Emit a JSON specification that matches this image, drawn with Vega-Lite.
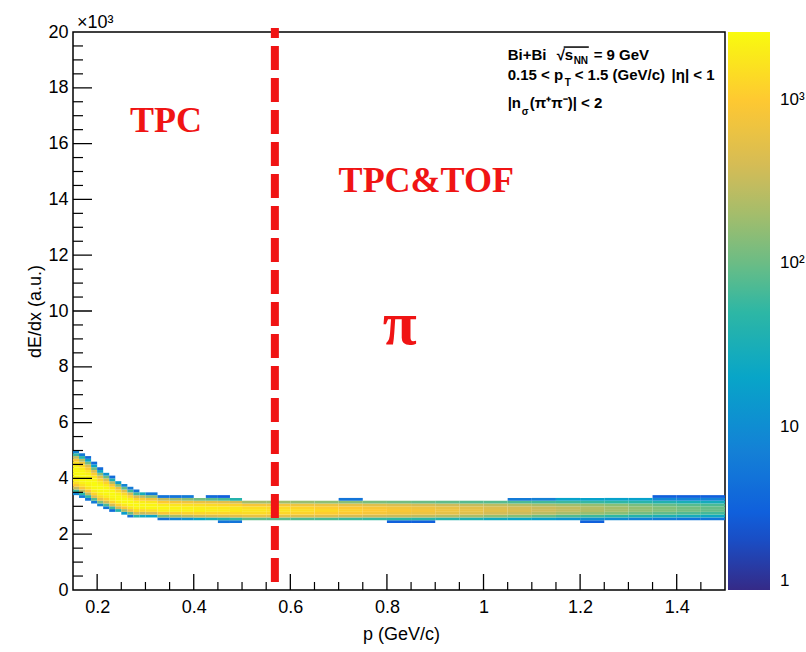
{
"$schema": "https://vega.github.io/schema/vega-lite/v6.json",
"width": 652,
"height": 558,
"autosize": {"type": "none"},
"padding": {"left": 73, "top": 32, "right": 81, "bottom": 62},
"background": "white",
"config": {
  "view": {"stroke": "black", "strokeWidth": 1.5},
  "axis": {"labelFont": "Liberation Sans", "titleFont": "Liberation Sans", "labelColor": "black", "titleColor": "black", "grid": false, "domain": false, "tickColor": "black"}
},
"resolve": {"axis": {"x": "independent", "y": "independent"}},
"datasets": {
"xmajor": [{"v":0.2},{"v":0.4},{"v":0.6},{"v":0.8},{"v":1.0},{"v":1.2},{"v":1.4}],
"xminor": [{"v":0.25},{"v":0.3},{"v":0.35},{"v":0.45},{"v":0.5},{"v":0.55},{"v":0.65},{"v":0.7},{"v":0.75},{"v":0.85},{"v":0.9},{"v":0.95},{"v":1.05},{"v":1.1},{"v":1.15},{"v":1.25},{"v":1.3},{"v":1.35},{"v":1.45}],
"ymajor": [{"v":2},{"v":4},{"v":6},{"v":8},{"v":10},{"v":12},{"v":14},{"v":16},{"v":18}],
"yminor": [{"v":0.5},{"v":1},{"v":1.5},{"v":2.5},{"v":3},{"v":3.5},{"v":4.5},{"v":5},{"v":5.5},{"v":6.5},{"v":7},{"v":7.5},{"v":8.5},{"v":9},{"v":9.5},{"v":10.5},{"v":11},{"v":11.5},{"v":12.5},{"v":13},{"v":13.5},{"v":14.5},{"v":15},{"v":15.5},{"v":16.5},{"v":17},{"v":17.5},{"v":18.5},{"v":19},{"v":19.5}],
"hist": [
{"p":0.15,"q":0.1625,"e":3.4,"f":3.5,"n":8},
{"p":0.15,"q":0.1625,"e":3.5,"f":3.6,"n":60},
{"p":0.15,"q":0.1625,"e":3.6,"f":3.7,"n":300},
{"p":0.15,"q":0.1625,"e":3.7,"f":3.8,"n":900},
{"p":0.15,"q":0.1625,"e":3.8,"f":3.9,"n":1600},
{"p":0.15,"q":0.1625,"e":3.9,"f":4.0,"n":2150},
{"p":0.15,"q":0.1625,"e":4.0,"f":4.1,"n":2450},
{"p":0.15,"q":0.1625,"e":4.1,"f":4.2,"n":2550},
{"p":0.15,"q":0.1625,"e":4.2,"f":4.3,"n":2550},
{"p":0.15,"q":0.1625,"e":4.3,"f":4.4,"n":2450},
{"p":0.15,"q":0.1625,"e":4.4,"f":4.5,"n":2150},
{"p":0.15,"q":0.1625,"e":4.5,"f":4.6,"n":1600},
{"p":0.15,"q":0.1625,"e":4.6,"f":4.7,"n":900},
{"p":0.15,"q":0.1625,"e":4.7,"f":4.8,"n":300},
{"p":0.15,"q":0.1625,"e":4.8,"f":4.9,"n":60},
{"p":0.15,"q":0.1625,"e":4.9,"f":5.0,"n":8},
{"p":0.1625,"q":0.175,"e":3.3,"f":3.4,"n":6},
{"p":0.1625,"q":0.175,"e":3.4,"f":3.5,"n":50},
{"p":0.1625,"q":0.175,"e":3.5,"f":3.6,"n":280},
{"p":0.1625,"q":0.175,"e":3.6,"f":3.7,"n":850},
{"p":0.1625,"q":0.175,"e":3.7,"f":3.8,"n":1550},
{"p":0.1625,"q":0.175,"e":3.8,"f":3.9,"n":2100},
{"p":0.1625,"q":0.175,"e":3.9,"f":4.0,"n":2450},
{"p":0.1625,"q":0.175,"e":4.0,"f":4.1,"n":2550},
{"p":0.1625,"q":0.175,"e":4.1,"f":4.2,"n":2550},
{"p":0.1625,"q":0.175,"e":4.2,"f":4.3,"n":2400},
{"p":0.1625,"q":0.175,"e":4.3,"f":4.4,"n":2000},
{"p":0.1625,"q":0.175,"e":4.4,"f":4.5,"n":1400},
{"p":0.1625,"q":0.175,"e":4.5,"f":4.6,"n":750},
{"p":0.1625,"q":0.175,"e":4.6,"f":4.7,"n":250},
{"p":0.1625,"q":0.175,"e":4.7,"f":4.8,"n":45},
{"p":0.1625,"q":0.175,"e":4.8,"f":4.9,"n":6},
{"p":0.175,"q":0.1875,"e":3.2,"f":3.3,"n":5},
{"p":0.175,"q":0.1875,"e":3.3,"f":3.4,"n":50},
{"p":0.175,"q":0.1875,"e":3.4,"f":3.5,"n":300},
{"p":0.175,"q":0.1875,"e":3.5,"f":3.6,"n":900},
{"p":0.175,"q":0.1875,"e":3.6,"f":3.7,"n":1600},
{"p":0.175,"q":0.1875,"e":3.7,"f":3.8,"n":2150},
{"p":0.175,"q":0.1875,"e":3.8,"f":3.9,"n":2450},
{"p":0.175,"q":0.1875,"e":3.9,"f":4.0,"n":2550},
{"p":0.175,"q":0.1875,"e":4.0,"f":4.1,"n":2500},
{"p":0.175,"q":0.1875,"e":4.1,"f":4.2,"n":2250},
{"p":0.175,"q":0.1875,"e":4.2,"f":4.3,"n":1750},
{"p":0.175,"q":0.1875,"e":4.3,"f":4.4,"n":1050},
{"p":0.175,"q":0.1875,"e":4.4,"f":4.5,"n":450},
{"p":0.175,"q":0.1875,"e":4.5,"f":4.6,"n":110},
{"p":0.175,"q":0.1875,"e":4.6,"f":4.7,"n":20},
{"p":0.175,"q":0.1875,"e":4.7,"f":4.8,"n":4},
{"p":0.1875,"q":0.2,"e":3.1,"f":3.2,"n":6},
{"p":0.1875,"q":0.2,"e":3.2,"f":3.3,"n":80},
{"p":0.1875,"q":0.2,"e":3.3,"f":3.4,"n":450},
{"p":0.1875,"q":0.2,"e":3.4,"f":3.5,"n":1200},
{"p":0.1875,"q":0.2,"e":3.5,"f":3.6,"n":1950},
{"p":0.1875,"q":0.2,"e":3.6,"f":3.7,"n":2400},
{"p":0.1875,"q":0.2,"e":3.7,"f":3.8,"n":2550},
{"p":0.1875,"q":0.2,"e":3.8,"f":3.9,"n":2550},
{"p":0.1875,"q":0.2,"e":3.9,"f":4.0,"n":2300},
{"p":0.1875,"q":0.2,"e":4.0,"f":4.1,"n":1800},
{"p":0.1875,"q":0.2,"e":4.1,"f":4.2,"n":1100},
{"p":0.1875,"q":0.2,"e":4.2,"f":4.3,"n":450},
{"p":0.1875,"q":0.2,"e":4.3,"f":4.4,"n":110},
{"p":0.1875,"q":0.2,"e":4.4,"f":4.5,"n":18},
{"p":0.1875,"q":0.2,"e":4.5,"f":4.6,"n":4},
{"p":0.2,"q":0.2125,"e":3.0,"f":3.1,"n":8},
{"p":0.2,"q":0.2125,"e":3.1,"f":3.2,"n":120},
{"p":0.2,"q":0.2125,"e":3.2,"f":3.3,"n":600},
{"p":0.2,"q":0.2125,"e":3.3,"f":3.4,"n":1400},
{"p":0.2,"q":0.2125,"e":3.4,"f":3.5,"n":2100},
{"p":0.2,"q":0.2125,"e":3.5,"f":3.6,"n":2450},
{"p":0.2,"q":0.2125,"e":3.6,"f":3.7,"n":2550},
{"p":0.2,"q":0.2125,"e":3.7,"f":3.8,"n":2400},
{"p":0.2,"q":0.2125,"e":3.8,"f":3.9,"n":1950},
{"p":0.2,"q":0.2125,"e":3.9,"f":4.0,"n":1250},
{"p":0.2,"q":0.2125,"e":4.0,"f":4.1,"n":550},
{"p":0.2,"q":0.2125,"e":4.1,"f":4.2,"n":140},
{"p":0.2,"q":0.2125,"e":4.2,"f":4.3,"n":22},
{"p":0.2,"q":0.2125,"e":4.3,"f":4.4,"n":4},
{"p":0.2125,"q":0.225,"e":2.9,"f":3.0,"n":5},
{"p":0.2125,"q":0.225,"e":3.0,"f":3.1,"n":70},
{"p":0.2125,"q":0.225,"e":3.1,"f":3.2,"n":400},
{"p":0.2125,"q":0.225,"e":3.2,"f":3.3,"n":1150},
{"p":0.2125,"q":0.225,"e":3.3,"f":3.4,"n":1950},
{"p":0.2125,"q":0.225,"e":3.4,"f":3.5,"n":2400},
{"p":0.2125,"q":0.225,"e":3.5,"f":3.6,"n":2550},
{"p":0.2125,"q":0.225,"e":3.6,"f":3.7,"n":2400},
{"p":0.2125,"q":0.225,"e":3.7,"f":3.8,"n":1900},
{"p":0.2125,"q":0.225,"e":3.8,"f":3.9,"n":1150},
{"p":0.2125,"q":0.225,"e":3.9,"f":4.0,"n":450},
{"p":0.2125,"q":0.225,"e":4.0,"f":4.1,"n":100},
{"p":0.2125,"q":0.225,"e":4.1,"f":4.2,"n":12},
{"p":0.225,"q":0.2375,"e":2.8,"f":2.9,"n":4},
{"p":0.225,"q":0.2375,"e":2.9,"f":3.0,"n":60},
{"p":0.225,"q":0.2375,"e":3.0,"f":3.1,"n":400},
{"p":0.225,"q":0.2375,"e":3.1,"f":3.2,"n":1200},
{"p":0.225,"q":0.2375,"e":3.2,"f":3.3,"n":2000},
{"p":0.225,"q":0.2375,"e":3.3,"f":3.4,"n":2450},
{"p":0.225,"q":0.2375,"e":3.4,"f":3.5,"n":2550},
{"p":0.225,"q":0.2375,"e":3.5,"f":3.6,"n":2300},
{"p":0.225,"q":0.2375,"e":3.6,"f":3.7,"n":1650},
{"p":0.225,"q":0.2375,"e":3.7,"f":3.8,"n":850},
{"p":0.225,"q":0.2375,"e":3.8,"f":3.9,"n":250},
{"p":0.225,"q":0.2375,"e":3.9,"f":4.0,"n":35},
{"p":0.225,"q":0.2375,"e":4.0,"f":4.1,"n":4},
{"p":0.2375,"q":0.25,"e":2.8,"f":2.9,"n":40},
{"p":0.2375,"q":0.25,"e":2.9,"f":3.0,"n":350},
{"p":0.2375,"q":0.25,"e":3.0,"f":3.1,"n":1150},
{"p":0.2375,"q":0.25,"e":3.1,"f":3.2,"n":2000},
{"p":0.2375,"q":0.25,"e":3.2,"f":3.3,"n":2450},
{"p":0.2375,"q":0.25,"e":3.3,"f":3.4,"n":2500},
{"p":0.2375,"q":0.25,"e":3.4,"f":3.5,"n":2150},
{"p":0.2375,"q":0.25,"e":3.5,"f":3.6,"n":1400},
{"p":0.2375,"q":0.25,"e":3.6,"f":3.7,"n":600},
{"p":0.2375,"q":0.25,"e":3.7,"f":3.8,"n":130},
{"p":0.2375,"q":0.25,"e":3.8,"f":3.9,"n":15},
{"p":0.25,"q":0.2625,"e":2.7,"f":2.8,"n":15},
{"p":0.25,"q":0.2625,"e":2.8,"f":2.9,"n":200},
{"p":0.25,"q":0.2625,"e":2.9,"f":3.0,"n":900},
{"p":0.25,"q":0.2625,"e":3.0,"f":3.1,"n":1850},
{"p":0.25,"q":0.2625,"e":3.1,"f":3.2,"n":2400},
{"p":0.25,"q":0.2625,"e":3.2,"f":3.3,"n":2500},
{"p":0.25,"q":0.2625,"e":3.3,"f":3.4,"n":2100},
{"p":0.25,"q":0.2625,"e":3.4,"f":3.5,"n":1300},
{"p":0.25,"q":0.2625,"e":3.5,"f":3.6,"n":500},
{"p":0.25,"q":0.2625,"e":3.6,"f":3.7,"n":90},
{"p":0.25,"q":0.2625,"e":3.7,"f":3.8,"n":8},
{"p":0.2625,"q":0.275,"e":2.6,"f":2.7,"n":5},
{"p":0.2625,"q":0.275,"e":2.7,"f":2.8,"n":100},
{"p":0.2625,"q":0.275,"e":2.8,"f":2.9,"n":650},
{"p":0.2625,"q":0.275,"e":2.9,"f":3.0,"n":1650},
{"p":0.2625,"q":0.275,"e":3.0,"f":3.1,"n":2350},
{"p":0.2625,"q":0.275,"e":3.1,"f":3.2,"n":2500},
{"p":0.2625,"q":0.275,"e":3.2,"f":3.3,"n":2100},
{"p":0.2625,"q":0.275,"e":3.3,"f":3.4,"n":1200},
{"p":0.2625,"q":0.275,"e":3.4,"f":3.5,"n":400},
{"p":0.2625,"q":0.275,"e":3.5,"f":3.6,"n":60},
{"p":0.2625,"q":0.275,"e":3.6,"f":3.7,"n":6},
{"p":0.275,"q":0.2875,"e":2.6,"f":2.7,"n":40},
{"p":0.275,"q":0.2875,"e":2.7,"f":2.8,"n":400},
{"p":0.275,"q":0.2875,"e":2.8,"f":2.9,"n":1400},
{"p":0.275,"q":0.2875,"e":2.9,"f":3.0,"n":2250},
{"p":0.275,"q":0.2875,"e":3.0,"f":3.1,"n":2450},
{"p":0.275,"q":0.2875,"e":3.1,"f":3.2,"n":2100},
{"p":0.275,"q":0.2875,"e":3.2,"f":3.3,"n":1250},
{"p":0.275,"q":0.2875,"e":3.3,"f":3.4,"n":420},
{"p":0.275,"q":0.2875,"e":3.4,"f":3.5,"n":60},
{"p":0.275,"q":0.2875,"e":3.5,"f":3.6,"n":5},
{"p":0.2875,"q":0.3,"e":2.6,"f":2.7,"n":25},
{"p":0.2875,"q":0.3,"e":2.7,"f":2.8,"n":320},
{"p":0.2875,"q":0.3,"e":2.8,"f":2.9,"n":1300},
{"p":0.2875,"q":0.3,"e":2.9,"f":3.0,"n":2200},
{"p":0.2875,"q":0.3,"e":3.0,"f":3.1,"n":2400},
{"p":0.2875,"q":0.3,"e":3.1,"f":3.2,"n":1950},
{"p":0.2875,"q":0.3,"e":3.2,"f":3.3,"n":1050},
{"p":0.2875,"q":0.3,"e":3.3,"f":3.4,"n":300},
{"p":0.2875,"q":0.3,"e":3.4,"f":3.5,"n":30},
{"p":0.3,"q":0.325,"e":2.6,"f":2.7,"n":20},
{"p":0.3,"q":0.325,"e":2.7,"f":2.8,"n":400},
{"p":0.3,"q":0.325,"e":2.8,"f":2.9,"n":1500},
{"p":0.3,"q":0.325,"e":2.9,"f":3.0,"n":2300},
{"p":0.3,"q":0.325,"e":3.0,"f":3.1,"n":2300},
{"p":0.3,"q":0.325,"e":3.1,"f":3.2,"n":1700},
{"p":0.3,"q":0.325,"e":3.2,"f":3.3,"n":800},
{"p":0.3,"q":0.325,"e":3.3,"f":3.4,"n":150},
{"p":0.3,"q":0.325,"e":3.4,"f":3.5,"n":6},
{"p":0.325,"q":0.35,"e":2.5,"f":2.6,"n":5},
{"p":0.325,"q":0.35,"e":2.6,"f":2.7,"n":120},
{"p":0.325,"q":0.35,"e":2.7,"f":2.8,"n":900},
{"p":0.325,"q":0.35,"e":2.8,"f":2.9,"n":2000},
{"p":0.325,"q":0.35,"e":2.9,"f":3.0,"n":2300},
{"p":0.325,"q":0.35,"e":3.0,"f":3.1,"n":1900},
{"p":0.325,"q":0.35,"e":3.1,"f":3.2,"n":1000},
{"p":0.325,"q":0.35,"e":3.2,"f":3.3,"n":300},
{"p":0.325,"q":0.35,"e":3.3,"f":3.4,"n":5},
{"p":0.35,"q":0.375,"e":2.5,"f":2.6,"n":8},
{"p":0.35,"q":0.375,"e":2.6,"f":2.7,"n":200},
{"p":0.35,"q":0.375,"e":2.7,"f":2.8,"n":1100},
{"p":0.35,"q":0.375,"e":2.8,"f":2.9,"n":2100},
{"p":0.35,"q":0.375,"e":2.9,"f":3.0,"n":2200},
{"p":0.35,"q":0.375,"e":3.0,"f":3.1,"n":1700},
{"p":0.35,"q":0.375,"e":3.1,"f":3.2,"n":800},
{"p":0.35,"q":0.375,"e":3.2,"f":3.3,"n":200},
{"p":0.35,"q":0.375,"e":3.3,"f":3.4,"n":5},
{"p":0.375,"q":0.4,"e":2.5,"f":2.6,"n":12},
{"p":0.375,"q":0.4,"e":2.6,"f":2.7,"n":280},
{"p":0.375,"q":0.4,"e":2.7,"f":2.8,"n":1200},
{"p":0.375,"q":0.4,"e":2.8,"f":2.9,"n":2100},
{"p":0.375,"q":0.4,"e":2.9,"f":3.0,"n":2100},
{"p":0.375,"q":0.4,"e":3.0,"f":3.1,"n":1550},
{"p":0.375,"q":0.4,"e":3.1,"f":3.2,"n":700},
{"p":0.375,"q":0.4,"e":3.2,"f":3.3,"n":150},
{"p":0.375,"q":0.4,"e":3.3,"f":3.4,"n":6},
{"p":0.4,"q":0.425,"e":2.5,"f":2.6,"n":20},
{"p":0.4,"q":0.425,"e":2.6,"f":2.7,"n":350},
{"p":0.4,"q":0.425,"e":2.7,"f":2.8,"n":1250},
{"p":0.4,"q":0.425,"e":2.8,"f":2.9,"n":2050},
{"p":0.4,"q":0.425,"e":2.9,"f":3.0,"n":2000},
{"p":0.4,"q":0.425,"e":3.0,"f":3.1,"n":1450},
{"p":0.4,"q":0.425,"e":3.1,"f":3.2,"n":620},
{"p":0.4,"q":0.425,"e":3.2,"f":3.3,"n":110},
{"p":0.425,"q":0.45,"e":2.5,"f":2.6,"n":30},
{"p":0.425,"q":0.45,"e":2.6,"f":2.7,"n":400},
{"p":0.425,"q":0.45,"e":2.7,"f":2.8,"n":1250},
{"p":0.425,"q":0.45,"e":2.8,"f":2.9,"n":1950},
{"p":0.425,"q":0.45,"e":2.9,"f":3.0,"n":1900},
{"p":0.425,"q":0.45,"e":3.0,"f":3.1,"n":1350},
{"p":0.425,"q":0.45,"e":3.1,"f":3.2,"n":560},
{"p":0.425,"q":0.45,"e":3.2,"f":3.3,"n":90},
{"p":0.425,"q":0.45,"e":3.3,"f":3.4,"n":4},
{"p":0.45,"q":0.475,"e":2.4,"f":2.5,"n":5},
{"p":0.45,"q":0.475,"e":2.5,"f":2.6,"n":40},
{"p":0.45,"q":0.475,"e":2.6,"f":2.7,"n":450},
{"p":0.45,"q":0.475,"e":2.7,"f":2.8,"n":1250},
{"p":0.45,"q":0.475,"e":2.8,"f":2.9,"n":1900},
{"p":0.45,"q":0.475,"e":2.9,"f":3.0,"n":1800},
{"p":0.45,"q":0.475,"e":3.0,"f":3.1,"n":1250},
{"p":0.45,"q":0.475,"e":3.1,"f":3.2,"n":500},
{"p":0.45,"q":0.475,"e":3.2,"f":3.3,"n":70},
{"p":0.45,"q":0.475,"e":3.3,"f":3.4,"n":3},
{"p":0.475,"q":0.5,"e":2.4,"f":2.5,"n":5},
{"p":0.475,"q":0.5,"e":2.5,"f":2.6,"n":55},
{"p":0.475,"q":0.5,"e":2.6,"f":2.7,"n":500},
{"p":0.475,"q":0.5,"e":2.7,"f":2.8,"n":1300},
{"p":0.475,"q":0.5,"e":2.8,"f":2.9,"n":1800},
{"p":0.475,"q":0.5,"e":2.9,"f":3.0,"n":1700},
{"p":0.475,"q":0.5,"e":3.0,"f":3.1,"n":1150},
{"p":0.475,"q":0.5,"e":3.1,"f":3.2,"n":400},
{"p":0.475,"q":0.5,"e":3.2,"f":3.3,"n":40},
{"p":0.5,"q":0.55,"e":2.5,"f":2.6,"n":90},
{"p":0.5,"q":0.55,"e":2.6,"f":2.7,"n":600},
{"p":0.5,"q":0.55,"e":2.7,"f":2.8,"n":1400},
{"p":0.5,"q":0.55,"e":2.8,"f":2.9,"n":1700},
{"p":0.5,"q":0.55,"e":2.9,"f":3.0,"n":1450},
{"p":0.5,"q":0.55,"e":3.0,"f":3.1,"n":850},
{"p":0.5,"q":0.55,"e":3.1,"f":3.2,"n":200},
{"p":0.55,"q":0.6,"e":2.5,"f":2.6,"n":85},
{"p":0.55,"q":0.6,"e":2.6,"f":2.7,"n":560},
{"p":0.55,"q":0.6,"e":2.7,"f":2.8,"n":1300},
{"p":0.55,"q":0.6,"e":2.8,"f":2.9,"n":1600},
{"p":0.55,"q":0.6,"e":2.9,"f":3.0,"n":1350},
{"p":0.55,"q":0.6,"e":3.0,"f":3.1,"n":800},
{"p":0.55,"q":0.6,"e":3.1,"f":3.2,"n":190},
{"p":0.6,"q":0.65,"e":2.5,"f":2.6,"n":75},
{"p":0.6,"q":0.65,"e":2.6,"f":2.7,"n":500},
{"p":0.6,"q":0.65,"e":2.7,"f":2.8,"n":1180},
{"p":0.6,"q":0.65,"e":2.8,"f":2.9,"n":1450},
{"p":0.6,"q":0.65,"e":2.9,"f":3.0,"n":1230},
{"p":0.6,"q":0.65,"e":3.0,"f":3.1,"n":720},
{"p":0.6,"q":0.65,"e":3.1,"f":3.2,"n":170},
{"p":0.65,"q":0.7,"e":2.5,"f":2.6,"n":70},
{"p":0.65,"q":0.7,"e":2.6,"f":2.7,"n":460},
{"p":0.65,"q":0.7,"e":2.7,"f":2.8,"n":1060},
{"p":0.65,"q":0.7,"e":2.8,"f":2.9,"n":1300},
{"p":0.65,"q":0.7,"e":2.9,"f":3.0,"n":1100},
{"p":0.65,"q":0.7,"e":3.0,"f":3.1,"n":650},
{"p":0.65,"q":0.7,"e":3.1,"f":3.2,"n":150},
{"p":0.7,"q":0.75,"e":2.5,"f":2.6,"n":60},
{"p":0.7,"q":0.75,"e":2.6,"f":2.7,"n":400},
{"p":0.7,"q":0.75,"e":2.7,"f":2.8,"n":950},
{"p":0.7,"q":0.75,"e":2.8,"f":2.9,"n":1150},
{"p":0.7,"q":0.75,"e":2.9,"f":3.0,"n":980},
{"p":0.7,"q":0.75,"e":3.0,"f":3.1,"n":580},
{"p":0.7,"q":0.75,"e":3.1,"f":3.2,"n":140},
{"p":0.7,"q":0.75,"e":3.2,"f":3.3,"n":5},
{"p":0.75,"q":0.8,"e":2.5,"f":2.6,"n":55},
{"p":0.75,"q":0.8,"e":2.6,"f":2.7,"n":350},
{"p":0.75,"q":0.8,"e":2.7,"f":2.8,"n":820},
{"p":0.75,"q":0.8,"e":2.8,"f":2.9,"n":1000},
{"p":0.75,"q":0.8,"e":2.9,"f":3.0,"n":850},
{"p":0.75,"q":0.8,"e":3.0,"f":3.1,"n":500},
{"p":0.75,"q":0.8,"e":3.1,"f":3.2,"n":120},
{"p":0.8,"q":0.85,"e":2.4,"f":2.5,"n":3},
{"p":0.8,"q":0.85,"e":2.5,"f":2.6,"n":50},
{"p":0.8,"q":0.85,"e":2.6,"f":2.7,"n":320},
{"p":0.8,"q":0.85,"e":2.7,"f":2.8,"n":740},
{"p":0.8,"q":0.85,"e":2.8,"f":2.9,"n":900},
{"p":0.8,"q":0.85,"e":2.9,"f":3.0,"n":770},
{"p":0.8,"q":0.85,"e":3.0,"f":3.1,"n":450},
{"p":0.8,"q":0.85,"e":3.1,"f":3.2,"n":110},
{"p":0.85,"q":0.9,"e":2.4,"f":2.5,"n":3},
{"p":0.85,"q":0.9,"e":2.5,"f":2.6,"n":45},
{"p":0.85,"q":0.9,"e":2.6,"f":2.7,"n":280},
{"p":0.85,"q":0.9,"e":2.7,"f":2.8,"n":650},
{"p":0.85,"q":0.9,"e":2.8,"f":2.9,"n":800},
{"p":0.85,"q":0.9,"e":2.9,"f":3.0,"n":680},
{"p":0.85,"q":0.9,"e":3.0,"f":3.1,"n":400},
{"p":0.85,"q":0.9,"e":3.1,"f":3.2,"n":100},
{"p":0.9,"q":0.95,"e":2.5,"f":2.6,"n":40},
{"p":0.9,"q":0.95,"e":2.6,"f":2.7,"n":250},
{"p":0.9,"q":0.95,"e":2.7,"f":2.8,"n":570},
{"p":0.9,"q":0.95,"e":2.8,"f":2.9,"n":700},
{"p":0.9,"q":0.95,"e":2.9,"f":3.0,"n":600},
{"p":0.9,"q":0.95,"e":3.0,"f":3.1,"n":350},
{"p":0.9,"q":0.95,"e":3.1,"f":3.2,"n":90},
{"p":0.95,"q":1.0,"e":2.5,"f":2.6,"n":35},
{"p":0.95,"q":1.0,"e":2.6,"f":2.7,"n":210},
{"p":0.95,"q":1.0,"e":2.7,"f":2.8,"n":490},
{"p":0.95,"q":1.0,"e":2.8,"f":2.9,"n":600},
{"p":0.95,"q":1.0,"e":2.9,"f":3.0,"n":520},
{"p":0.95,"q":1.0,"e":3.0,"f":3.1,"n":310},
{"p":0.95,"q":1.0,"e":3.1,"f":3.2,"n":80},
{"p":1.0,"q":1.05,"e":2.5,"f":2.6,"n":25},
{"p":1.0,"q":1.05,"e":2.6,"f":2.7,"n":160},
{"p":1.0,"q":1.05,"e":2.7,"f":2.8,"n":390},
{"p":1.0,"q":1.05,"e":2.8,"f":2.9,"n":500},
{"p":1.0,"q":1.05,"e":2.9,"f":3.0,"n":450},
{"p":1.0,"q":1.05,"e":3.0,"f":3.1,"n":280},
{"p":1.0,"q":1.05,"e":3.1,"f":3.2,"n":80},
{"p":1.05,"q":1.1,"e":2.5,"f":2.6,"n":20},
{"p":1.05,"q":1.1,"e":2.6,"f":2.7,"n":130},
{"p":1.05,"q":1.1,"e":2.7,"f":2.8,"n":330},
{"p":1.05,"q":1.1,"e":2.8,"f":2.9,"n":420},
{"p":1.05,"q":1.1,"e":2.9,"f":3.0,"n":390},
{"p":1.05,"q":1.1,"e":3.0,"f":3.1,"n":240},
{"p":1.05,"q":1.1,"e":3.1,"f":3.2,"n":70},
{"p":1.05,"q":1.1,"e":3.2,"f":3.3,"n":6},
{"p":1.1,"q":1.15,"e":2.5,"f":2.6,"n":16},
{"p":1.1,"q":1.15,"e":2.6,"f":2.7,"n":100},
{"p":1.1,"q":1.15,"e":2.7,"f":2.8,"n":270},
{"p":1.1,"q":1.15,"e":2.8,"f":2.9,"n":350},
{"p":1.1,"q":1.15,"e":2.9,"f":3.0,"n":330},
{"p":1.1,"q":1.15,"e":3.0,"f":3.1,"n":210},
{"p":1.1,"q":1.15,"e":3.1,"f":3.2,"n":65},
{"p":1.1,"q":1.15,"e":3.2,"f":3.3,"n":7},
{"p":1.15,"q":1.2,"e":2.5,"f":2.6,"n":12},
{"p":1.15,"q":1.2,"e":2.6,"f":2.7,"n":75},
{"p":1.15,"q":1.2,"e":2.7,"f":2.8,"n":210},
{"p":1.15,"q":1.2,"e":2.8,"f":2.9,"n":290},
{"p":1.15,"q":1.2,"e":2.9,"f":3.0,"n":290},
{"p":1.15,"q":1.2,"e":3.0,"f":3.1,"n":190},
{"p":1.15,"q":1.2,"e":3.1,"f":3.2,"n":60},
{"p":1.15,"q":1.2,"e":3.2,"f":3.3,"n":18},
{"p":1.2,"q":1.25,"e":2.4,"f":2.5,"n":3},
{"p":1.2,"q":1.25,"e":2.5,"f":2.6,"n":10},
{"p":1.2,"q":1.25,"e":2.6,"f":2.7,"n":60},
{"p":1.2,"q":1.25,"e":2.7,"f":2.8,"n":170},
{"p":1.2,"q":1.25,"e":2.8,"f":2.9,"n":240},
{"p":1.2,"q":1.25,"e":2.9,"f":3.0,"n":240},
{"p":1.2,"q":1.25,"e":3.0,"f":3.1,"n":165},
{"p":1.2,"q":1.25,"e":3.1,"f":3.2,"n":55},
{"p":1.2,"q":1.25,"e":3.2,"f":3.3,"n":18},
{"p":1.25,"q":1.3,"e":2.5,"f":2.6,"n":9},
{"p":1.25,"q":1.3,"e":2.6,"f":2.7,"n":50},
{"p":1.25,"q":1.3,"e":2.7,"f":2.8,"n":140},
{"p":1.25,"q":1.3,"e":2.8,"f":2.9,"n":200},
{"p":1.25,"q":1.3,"e":2.9,"f":3.0,"n":200},
{"p":1.25,"q":1.3,"e":3.0,"f":3.1,"n":140},
{"p":1.25,"q":1.3,"e":3.1,"f":3.2,"n":50},
{"p":1.25,"q":1.3,"e":3.2,"f":3.3,"n":18},
{"p":1.3,"q":1.35,"e":2.5,"f":2.6,"n":7},
{"p":1.3,"q":1.35,"e":2.6,"f":2.7,"n":40},
{"p":1.3,"q":1.35,"e":2.7,"f":2.8,"n":110},
{"p":1.3,"q":1.35,"e":2.8,"f":2.9,"n":160},
{"p":1.3,"q":1.35,"e":2.9,"f":3.0,"n":160},
{"p":1.3,"q":1.35,"e":3.0,"f":3.1,"n":115},
{"p":1.3,"q":1.35,"e":3.1,"f":3.2,"n":45},
{"p":1.3,"q":1.35,"e":3.2,"f":3.3,"n":18},
{"p":1.35,"q":1.4,"e":2.5,"f":2.6,"n":6},
{"p":1.35,"q":1.4,"e":2.6,"f":2.7,"n":32},
{"p":1.35,"q":1.4,"e":2.7,"f":2.8,"n":90},
{"p":1.35,"q":1.4,"e":2.8,"f":2.9,"n":130},
{"p":1.35,"q":1.4,"e":2.9,"f":3.0,"n":130},
{"p":1.35,"q":1.4,"e":3.0,"f":3.1,"n":95},
{"p":1.35,"q":1.4,"e":3.1,"f":3.2,"n":38},
{"p":1.35,"q":1.4,"e":3.2,"f":3.3,"n":9},
{"p":1.35,"q":1.4,"e":3.3,"f":3.4,"n":3},
{"p":1.4,"q":1.45,"e":2.5,"f":2.6,"n":5},
{"p":1.4,"q":1.45,"e":2.6,"f":2.7,"n":28},
{"p":1.4,"q":1.45,"e":2.7,"f":2.8,"n":75},
{"p":1.4,"q":1.45,"e":2.8,"f":2.9,"n":110},
{"p":1.4,"q":1.45,"e":2.9,"f":3.0,"n":110},
{"p":1.4,"q":1.45,"e":3.0,"f":3.1,"n":80},
{"p":1.4,"q":1.45,"e":3.1,"f":3.2,"n":32},
{"p":1.4,"q":1.45,"e":3.2,"f":3.3,"n":8},
{"p":1.4,"q":1.45,"e":3.3,"f":3.4,"n":3},
{"p":1.45,"q":1.5,"e":2.5,"f":2.6,"n":5},
{"p":1.45,"q":1.5,"e":2.6,"f":2.7,"n":24},
{"p":1.45,"q":1.5,"e":2.7,"f":2.8,"n":65},
{"p":1.45,"q":1.5,"e":2.8,"f":2.9,"n":95},
{"p":1.45,"q":1.5,"e":2.9,"f":3.0,"n":95},
{"p":1.45,"q":1.5,"e":3.0,"f":3.1,"n":70},
{"p":1.45,"q":1.5,"e":3.1,"f":3.2,"n":28},
{"p":1.45,"q":1.5,"e":3.2,"f":3.3,"n":8},
{"p":1.45,"q":1.5,"e":3.3,"f":3.4,"n":3}
]
},
"layer": [
{
  "data": {"name": "hist"},
  "mark": {"type": "rect"},
  "encoding": {
    "x": {"field": "p", "type": "quantitative",
      "scale": {"domain": [0.15, 1.5], "nice": false, "zero": false},
      "axis": {"orient": "bottom", "values": [0.2, 0.4, 0.6, 0.8, 1, 1.2, 1.4], "format": "~g", "ticks": false, "labelPadding": 8, "labelFontSize": 18, "labelFlush": false, "labelOverlap": false,
        "title": "p (GeV/c)", "titleFontSize": 18, "titleFontWeight": "normal", "titleX": 328, "titleY": 44, "titleAlign": "center", "titleBaseline": "middle"}},
    "x2": {"field": "q"},
    "y": {"field": "e", "type": "quantitative",
      "scale": {"domain": [0, 20], "nice": false, "zero": false},
      "axis": {"orient": "left", "values": [0, 2, 4, 6, 8, 10, 12, 14, 16, 18, 20], "format": "~g", "ticks": false, "labelPadding": 5, "labelFontSize": 18, "labelFlush": false, "labelOverlap": false,
        "title": "dE/dx (a.u.)", "titleFontSize": 18, "titleFontWeight": "normal", "titleX": -38, "titleY": 279, "titleAngle": 270, "titleAlign": "center", "titleBaseline": "middle"}},
    "y2": {"field": "f"},
    "color": {"field": "n", "type": "quantitative",
      "scale": {"type": "log", "domain": [1, 2600], "interpolate": "rgb", "range": ["#352a87", "#0f5cdd", "#1481d6", "#06a4ca", "#2eb7a4", "#87bf77", "#d1bb59", "#fec832", "#f9fb0e"]},
      "legend": {"type": "gradient", "title": null, "orient": "right", "direction": "vertical", "values": [1, 10, 100, 1000],
        "labelExpr": "datum.value >= 1000 ? '10³' : datum.value >= 100 ? '10²' : datum.value >= 10 ? '10' : '1'",
        "gradientLength": 558, "gradientThickness": 42, "gradientStrokeWidth": 0, "offset": 3, "padding": 0,
        "labelFontSize": 17, "labelFont": "Liberation Sans", "labelColor": "black", "labelOffset": 10, "labelBaseline": "middle", "labelOverlap": false}}
  }
},
{
  "data": {"name": "xmajor"},
  "mark": {"type": "tick", "orient": "vertical", "size": 32, "thickness": 1.3, "color": "black", "clip": true, "opacity": 1},
  "encoding": {
    "x": {"field": "v", "type": "quantitative", "axis": null},
    "y": {"datum": 0, "type": "quantitative", "axis": null}
  }
},
{
  "data": {"name": "xminor"},
  "mark": {"type": "tick", "orient": "vertical", "size": 16, "thickness": 1.2, "color": "black", "clip": true, "opacity": 1},
  "encoding": {
    "x": {"field": "v", "type": "quantitative", "axis": null},
    "y": {"datum": 0, "type": "quantitative", "axis": null}
  }
},
{
  "data": {"name": "ymajor"},
  "mark": {"type": "tick", "orient": "horizontal", "size": 38, "thickness": 1.3, "color": "black", "clip": true, "opacity": 1},
  "encoding": {
    "y": {"field": "v", "type": "quantitative", "axis": null},
    "x": {"datum": 0.15, "type": "quantitative", "axis": null}
  }
},
{
  "data": {"name": "yminor"},
  "mark": {"type": "tick", "orient": "horizontal", "size": 20, "thickness": 1.2, "color": "black", "clip": true, "opacity": 1},
  "encoding": {
    "y": {"field": "v", "type": "quantitative", "axis": null},
    "x": {"datum": 0.15, "type": "quantitative", "axis": null}
  }
},
{
  "data": {"values": [{"p": 0.568, "y": 0.287, "y2": 20.14}]},
  "mark": {"type": "rule", "color": "#f01414", "strokeWidth": 8, "strokeDash": [24, 8], "strokeCap": "butt", "clip": false},
  "encoding": {
    "x": {"field": "p", "type": "quantitative", "axis": null},
    "y": {"field": "y", "type": "quantitative", "axis": null},
    "y2": {"field": "y2"}
  }
},
{
  "data": {"values": [{"p": 1.166, "p2": 1.218, "y": 19.46}]},
  "mark": {"type": "rule", "color": "black", "strokeWidth": 1.5},
  "encoding": {
    "x": {"field": "p", "type": "quantitative", "axis": null},
    "x2": {"field": "p2"},
    "y": {"field": "y", "type": "quantitative", "axis": null}
  }
},
{
  "data": {"values": [{"p": 0.3424, "y": 16.4, "t": "TPC"}, {"p": 0.8815, "y": 14.27, "t": "TPC&TOF"}]},
  "mark": {"type": "text", "font": "Liberation Serif", "fontWeight": "bold", "fontSize": 36, "color": "#f01414", "align": "center", "baseline": "alphabetic"},
  "encoding": {
    "x": {"field": "p", "type": "quantitative", "axis": null},
    "y": {"field": "y", "type": "quantitative", "axis": null},
    "text": {"field": "t"}
  }
},
{
  "data": {"values": [{"p": 0.8266, "y": 8.82, "t": "π"}]},
  "mark": {"type": "text", "font": "Liberation Serif", "fontWeight": "bold", "fontSize": 62, "color": "#f01414", "align": "center", "baseline": "alphabetic"},
  "encoding": {
    "x": {"field": "p", "type": "quantitative", "axis": null},
    "y": {"field": "y", "type": "quantitative", "axis": null},
    "text": {"field": "t"}
  }
},
{
  "data": {"values": [
    {"p": 1.05, "y": 19.0, "t": "Bi+Bi"},
    {"p": 1.1514, "y": 19.0, "t": "√s"},
    {"p": 1.228, "y": 19.0, "t": "= 9 GeV"},
    {"p": 1.05, "y": 18.28, "t": "0.15 < p"},
    {"p": 1.1887, "y": 18.28, "t": "< 1.5 (GeV/c)"},
    {"p": 1.3894, "y": 18.28, "t": "|η| < 1"},
    {"p": 1.05, "y": 17.28, "t": "|n"},
    {"p": 1.0956, "y": 17.28, "t": "(π⁺π⁻)| < 2"}
  ]},
  "mark": {"type": "text", "font": "Liberation Sans", "fontWeight": "bold", "fontSize": 15, "color": "black", "align": "left", "baseline": "alphabetic"},
  "encoding": {
    "x": {"field": "p", "type": "quantitative", "axis": null},
    "y": {"field": "y", "type": "quantitative", "axis": null},
    "text": {"field": "t"}
  }
},
{
  "data": {"values": [
    {"p": 1.1866, "y": 18.85, "t": "NN"},
    {"p": 1.168, "y": 18.06, "t": "T"},
    {"p": 1.079, "y": 17.03, "t": "σ"}
  ]},
  "mark": {"type": "text", "font": "Liberation Sans", "fontWeight": "bold", "fontSize": 10, "color": "black", "align": "left", "baseline": "alphabetic"},
  "encoding": {
    "x": {"field": "p", "type": "quantitative", "axis": null},
    "y": {"field": "y", "type": "quantitative", "axis": null},
    "text": {"field": "t"}
  }
},
{
  "data": {"values": [{"p": 0.1583, "y": 20.14, "t": "×10³"}]},
  "mark": {"type": "text", "font": "Liberation Sans", "fontSize": 18, "color": "black", "align": "left", "baseline": "alphabetic"},
  "encoding": {
    "x": {"field": "p", "type": "quantitative", "axis": null},
    "y": {"field": "y", "type": "quantitative", "axis": null},
    "text": {"field": "t"}
  }
}
]
}
